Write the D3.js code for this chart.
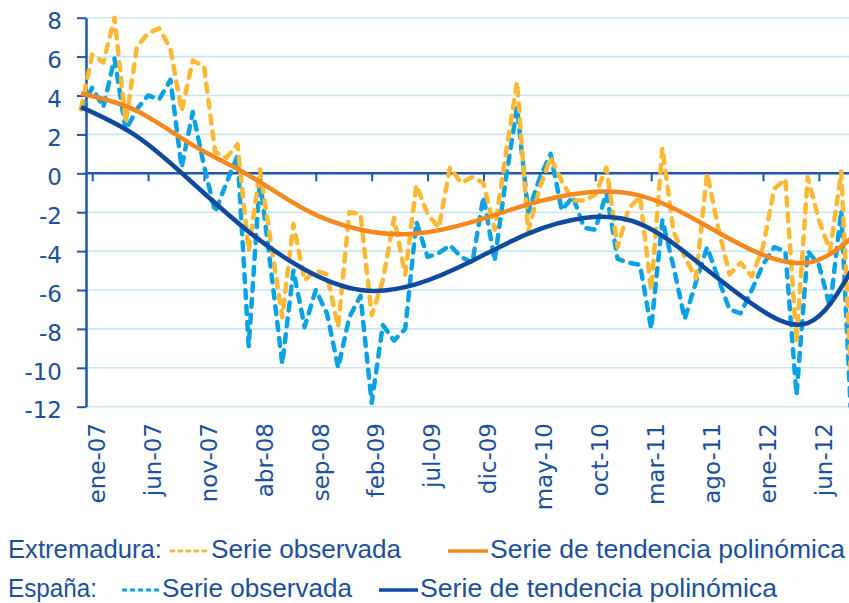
<!DOCTYPE html>
<html><head><meta charset="utf-8">
<script src="https://cdn.jsdelivr.net/npm/d3@7"></script>
<style>body{margin:0;background:#fff}svg{display:block}</style>
</head><body><svg id="c" width="849" height="603"></svg>
<script>
const categories = ["dic-06",
 "ene-07","feb-07","mar-07","abr-07","may-07","jun-07","jul-07","ago-07","sep-07","oct-07","nov-07","dic-07",
 "ene-08","feb-08","mar-08","abr-08","may-08","jun-08","jul-08","ago-08","sep-08","oct-08","nov-08","dic-08",
 "ene-09","feb-09","mar-09","abr-09","may-09","jun-09","jul-09","ago-09","sep-09","oct-09","nov-09","dic-09",
 "ene-10","feb-10","mar-10","abr-10","may-10","jun-10","jul-10","ago-10","sep-10","oct-10","nov-10","dic-10",
 "ene-11","feb-11","mar-11","abr-11","may-11","jun-11","jul-11","ago-11","sep-11","oct-11","nov-11","dic-11",
 "ene-12","feb-12","mar-12","abr-12","may-12","jun-12","jul-12","ago-12","sep-12"];
const tickLabels = ["ene-07","jun-07","nov-07","abr-08","sep-08","feb-09","jul-09","dic-09","may-10","oct-10","mar-11","ago-11","ene-12","jun-12"];
const yTicks = [-12,-10,-8,-6,-4,-2,0,2,4,6,8];

// Extremadura: serie observada
const extObs = [3.3,
 6.1,5.7,8.0,2.6,6.5,7.2,7.45,6.4,3.2,5.8,5.5,1.1,
 0.8,1.5,-4.0,0.2,-3.6,-7.4,-2.6,-5.5,-5.0,-5.2,-7.9,-2.0,
 -2.1,-7.3,-5.5,-2.3,-5.2,-0.6,-2.1,-2.8,0.3,-0.5,-0.2,-0.5,
 -2.9,1.0,4.7,-3.0,-0.8,0.8,-0.4,-1.4,-1.4,-1.1,0.3,-3.8,
 -1.8,-1.2,-6.0,1.3,-3.0,-4.3,-5.4,0.0,-2.8,-5.2,-4.6,-5.3,
 -3.8,-0.8,-0.3,-8.6,-0.2,-2.4,-4.0,0.1,-12.0];
// España: serie observada
const espObs = [3.3,
 4.4,3.4,5.9,2.2,3.3,4.0,3.8,4.8,0.3,3.15,0.4,-2.0,
 -0.5,0.9,-8.9,-0.3,-5.0,-9.8,-5.0,-7.9,-6.0,-7.2,-10.0,-7.4,
 -6.3,-11.8,-7.8,-8.6,-8.0,-2.5,-4.3,-4.1,-3.7,-4.3,-4.6,-1.2,
 -4.5,-0.3,3.4,-2.0,-0.3,1.0,-1.9,-1.2,-2.8,-2.9,-1.0,-4.4,
 -4.6,-4.7,-8.0,-2.4,-4.8,-7.5,-5.6,-3.8,-5.4,-7.0,-7.2,-6.0,
 -4.7,-3.8,-4.0,-11.4,-4.0,-4.7,-6.9,-1.9,-14.0];
// Series de tendencia polinómica (valores leídos cada 5 meses)
const trendMonths = ["dic-06","may-07","oct-07","mar-08","ago-08","ene-09","jun-09","nov-09","abr-10","sep-10","feb-11","jul-11","dic-11","may-12","sep-12"];
const extTrend = [4.1,3.2,1.45,-0.1,-1.85,-2.9,-3.1,-2.5,-1.6,-1.0,-1.15,-2.4,-3.95,-4.6,-3.3];
const espTrend = [3.4,1.9,-0.5,-3.0,-4.95,-6.0,-5.7,-4.5,-3.1,-2.3,-2.6,-4.5,-6.7,-7.7,-4.9];

const W = 849;
const textColor = "#1c4f9c", axisColor = "#1f56a6", gridColor = "#c9e6f5";
const cYellow = "#fdb934", cCyan = "#0aa2e2", cOrange = "#f5891f", cNavy = "#0e4b9f";
const svg = d3.select("#c");
const step = 11.18, x0 = 81, axisX = 86;
const x = d3.scalePoint().domain(categories).range([x0, x0 + step * (categories.length - 1)]);
const y = d3.scaleLinear().domain([-12, 8]).range([406.7, 17.7]);
const axisFont = "DejaVu Sans, Verdana, sans-serif";

// grid
svg.append("g").selectAll("line").data(yTicks.filter(d => d !== 0)).join("line")
  .attr("x1", axisX).attr("x2", W).attr("y1", d => y(d)).attr("y2", d => y(d))
  .attr("stroke", gridColor).attr("stroke-width", 1.6);

// y axis
const gy = svg.append("g").attr("transform", `translate(${axisX},0)`)
  .call(d3.axisLeft(y).tickValues(yTicks).tickSize(9).tickSizeOuter(0).tickFormat(d => String(d)));
gy.select(".domain").attr("stroke", axisColor).attr("stroke-width", 2.5);
gy.selectAll(".tick line").attr("stroke", axisColor).attr("stroke-width", 2);
gy.selectAll(".tick text").attr("fill", textColor).attr("font-family", axisFont)
  .attr("font-size", 23).attr("x", -24).attr("dy", "0.36em").attr("y", 3);

// x axis (zero line + ticks)
svg.append("line").attr("x1", axisX).attr("x2", W).attr("y1", y(0)).attr("y2", y(0))
  .attr("stroke", axisColor).attr("stroke-width", 2.5);
const gx = svg.append("g").attr("transform", `translate(0,${y(0)})`)
  .call(d3.axisBottom(x).tickValues(tickLabels).tickSize(8).tickSizeOuter(0).tickFormat(""));
gx.select(".domain").remove();
gx.selectAll(".tick line").attr("stroke", axisColor).attr("stroke-width", 2);

// x labels
const gl = svg.append("g").attr("transform", `translate(0,423)`)
  .call(d3.axisBottom(x).tickValues(tickLabels).tickSize(0).tickSizeOuter(0));
gl.select(".domain").remove();
gl.selectAll(".tick text").attr("fill", textColor).attr("font-family", axisFont)
  .attr("font-size", 23).attr("transform", "rotate(-90)").attr("text-anchor", "end")
  .attr("x", 0).attr("y", 4).attr("dy", "0.36em");

// clip
svg.append("clipPath").attr("id", "plot").append("rect").attr("x", 0).attr("y", 8).attr("width", W).attr("height", 407.5 - 8);
const gp = svg.append("g").attr("clip-path", "url(#plot)");

const obsLine = d3.line().x((d, i) => x(categories[i])).y(d => y(d));
const trLine = d3.line().x((d, i) => x(trendMonths[i])).y(d => y(d)).curve(d3.curveNatural);

gp.append("path").attr("d", obsLine(espObs)).attr("fill", "none").attr("stroke", cCyan)
  .attr("stroke-width", 4.5).attr("stroke-dasharray", "8,8").attr("stroke-linecap", "round").attr("stroke-linejoin", "round");
gp.append("path").attr("d", obsLine(extObs)).attr("fill", "none").attr("stroke", cYellow)
  .attr("stroke-width", 4.5).attr("stroke-dasharray", "8,8").attr("stroke-linecap", "round").attr("stroke-linejoin", "round");
gp.append("path").attr("d", trLine(extTrend)).attr("fill", "none").attr("stroke", cOrange).attr("stroke-width", 4.5);
gp.append("path").attr("d", trLine(espTrend)).attr("fill", "none").attr("stroke", cNavy).attr("stroke-width", 4.5);

// legend
const lg = svg.append("g").attr("font-family", "Liberation Sans, Arial, sans-serif").attr("font-size", 26).attr("fill", textColor);
const legendText = [
  {t: "Extremadura:", x: 8, y: 558, w: 154},
  {t: "Serie observada", x: 211, y: 558, w: 190},
  {t: "Serie de tendencia polinómica", x: 490, y: 558, w: 355},
  {t: "España:", x: 8, y: 597, w: 89},
  {t: "Serie observada", x: 162, y: 597, w: 190},
  {t: "Serie de tendencia polinómica", x: 420, y: 597, w: 357}
];
lg.selectAll("text").data(legendText).join("text")
  .attr("x", d => d.x).attr("y", d => d.y).attr("textLength", d => d.w).attr("lengthAdjust", "spacingAndGlyphs")
  .text(d => d.t);
const legendLines = [
  {x1: 170, x2: 209, y: 551, c: cYellow, dash: "5,3", w: 3},
  {x1: 448, x2: 488, y: 551, c: cOrange, dash: null, w: 3.5},
  {x1: 122, x2: 160, y: 590, c: cCyan, dash: "5,3", w: 3},
  {x1: 379, x2: 418, y: 590, c: cNavy, dash: null, w: 3.5}
];
svg.append("g").selectAll("line").data(legendLines).join("line")
  .attr("x1", d => d.x1).attr("x2", d => d.x2).attr("y1", d => d.y).attr("y2", d => d.y)
  .attr("stroke", d => d.c).attr("stroke-width", d => d.w).attr("stroke-dasharray", d => d.dash);
</script></body></html>
